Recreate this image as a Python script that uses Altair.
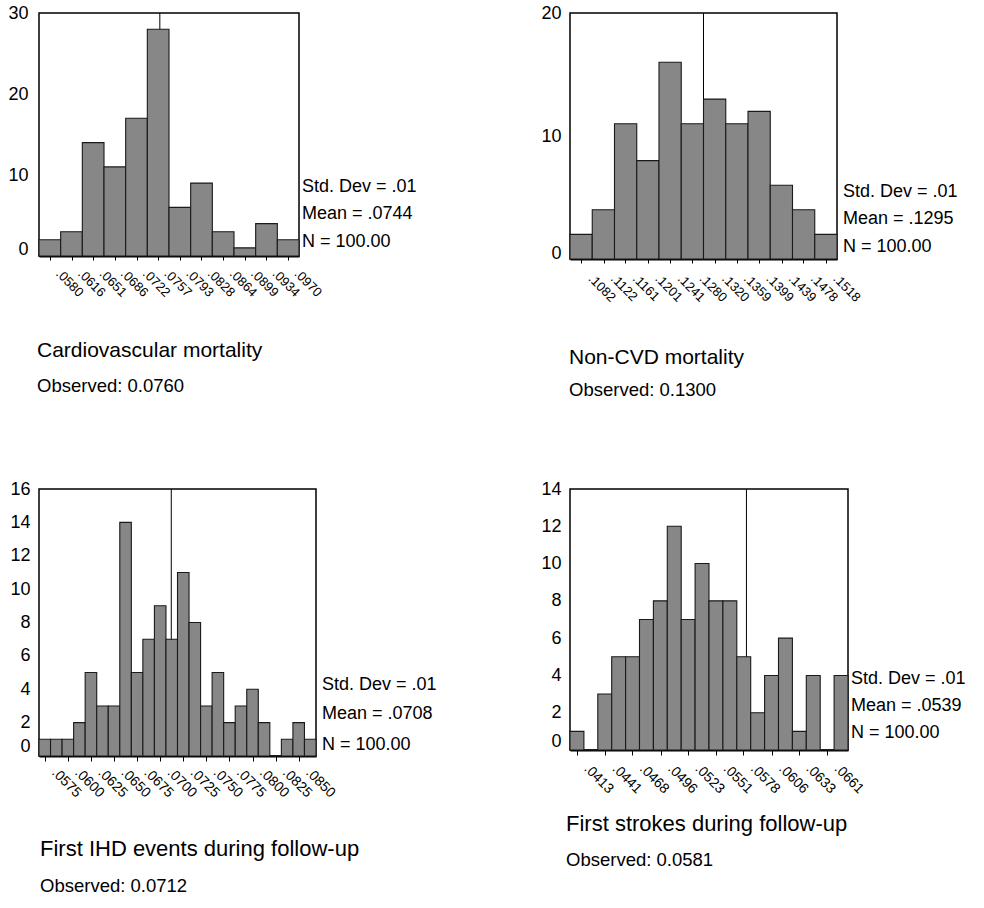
import altair as alt
import pandas as pd

FONT = "Liberation Sans"

# Cardiovascular mortality: bin midpoints shown on the axis and counts per bin
cvd_ticks = [0.0580, 0.0616, 0.0651, 0.0686, 0.0722, 0.0757, 0.0793, 0.0828,
             0.0864, 0.0899, 0.0934, 0.0970]
cvd_counts = [2, 3, 14, 11, 17, 28, 6, 9, 3, 1, 4, 2]
cvd_observed = 0.0760
cvd_mean = ".0744"

# Non-CVD mortality
noncvd_ticks = [0.1082, 0.1122, 0.1161, 0.1201, 0.1241, 0.1280, 0.1320, 0.1359,
                0.1399, 0.1439, 0.1478, 0.1518]
noncvd_counts = [2, 4, 11, 8, 16, 11, 13, 11, 12, 6, 4, 2]
noncvd_observed = 0.1300
noncvd_mean = ".1295"

# First IHD events during follow-up (two bins per labelled tick)
ihd_ticks = [0.0575, 0.0600, 0.0625, 0.0650, 0.0675, 0.0700, 0.0725, 0.0750,
             0.0775, 0.0800, 0.0825, 0.0850]
ihd_counts = [1, 1, 1, 2, 5, 3, 3, 14, 5, 7, 9, 7, 11, 8, 3, 5, 2, 3, 4, 2,
              0, 1, 2, 1]
ihd_observed = 0.0712
ihd_mean = ".0708"

# First strokes during follow-up (two bins per labelled tick)
stroke_ticks = [0.0413, 0.0441, 0.0468, 0.0496, 0.0523, 0.0551, 0.0578, 0.0606,
                0.0633, 0.0661]
stroke_counts = [1, 0, 3, 5, 5, 7, 8, 12, 7, 10, 8, 8, 5, 2, 4, 6, 1, 4, 0, 4]
stroke_observed = 0.0581
stroke_mean = ".0539"

std_dev = ".01"
n_cases = "100.00"

BAR_FILL = "#878787"


def text_mark(text, x, y, size, baseline="middle"):
    return alt.Chart(pd.DataFrame({"t": [text]})).mark_text(
        align="left", baseline=baseline, font=FONT, fontSize=size, color="black"
    ).encode(text="t:N", x=alt.value(x), y=alt.value(y))


def panel(ticks, counts, bars_per_tick, observed, mean, y_ticks, title,
          width, height, lay):
    step = (ticks[-1] - ticks[0]) / (len(ticks) - 1) / bars_per_tick
    lo = [ticks[0] + (i - 0.5) * step for i in range(len(counts))]
    hi = [v + step for v in lo]
    bars_df = pd.DataFrame({"lo": lo, "hi": hi, "count": counts,
                            "base": [0] * len(counts)})
    obs_df = pd.DataFrame({"obs": [observed], "y0": [y_ticks[0]], "y1": [y_ticks[-1]]})

    x_scale = alt.Scale(domain=[lo[0], hi[-1]], nice=False, zero=False)
    y_scale = alt.Scale(domain=[y_ticks[0], y_ticks[-1]], nice=False)

    x_axis = alt.Axis(
        values=ticks,
        labelExpr="substring(format(datum.value, '.4f'), 1)",
        labelAngle=45, labelAlign="left", labelBaseline="alphabetic",
        labelFontSize=lay["xfont"], labelPadding=lay["xpad"],
        labelOffset=lay["xoff"], labelOverlap=False, labelFlush=False,
        labelBound=False, tickSize=lay["tick"], tickColor="black",
        domainColor="black", domainWidth=2, grid=False, title=None,
    )
    y_axis = alt.Axis(
        values=y_ticks, tickSize=0, labelPadding=lay["ypad"], labelFontSize=18,
        labelOffset={"condition": {"test": "datum.value === 0", "value": lay["zero_off"]},
                     "value": 0},
        domain=False, grid=False, title=None,
    )

    # observed value: drawn first so the bars cover its lower part
    rule = alt.Chart(obs_df).mark_rule(color="black", strokeWidth=1).encode(
        x=alt.X("obs:Q", scale=x_scale, axis=x_axis),
        y=alt.Y("y0:Q", scale=y_scale, axis=y_axis),
        y2="y1:Q",
    )
    bars = alt.Chart(bars_df).mark_rect(
        fill=BAR_FILL, stroke="#1a1a1a", strokeWidth=1.1
    ).encode(
        x=alt.X("lo:Q", scale=x_scale, axis=x_axis),
        x2="hi:Q",
        y=alt.Y("count:Q", scale=y_scale, axis=y_axis),
        y2="base:Q",
    )

    sx = lay["stats_x"]
    layers = [
        rule,
        bars,
        text_mark(f"Std. Dev = {std_dev}", sx, height + lay["stats_y"][0], 18),
        text_mark(f"Mean = {mean}", sx, height + lay["stats_y"][1], 18),
        text_mark(f"N = {n_cases}", sx, height + lay["stats_y"][2], 18),
        text_mark(title, lay["title_x"], height + lay["title_y"], lay["title_size"],
                  baseline="alphabetic"),
        text_mark(f"Observed: {observed:.4f}", lay["title_x"], height + lay["obs_y"],
                  18.5, baseline="alphabetic"),
    ]
    return alt.layer(*layers).properties(width=width, height=height)


p1 = panel(cvd_ticks, cvd_counts, 1, cvd_observed, cvd_mean, [0, 10, 20, 30],
           "Cardiovascular mortality", 260, 243,
           dict(xfont=13, xpad=14, xoff=5, tick=4, ypad=11, zero_off=-7,
                stats_x=263, stats_y=[-69, -42, -14], title_x=-2, title_y=101,
                obs_y=136, title_size=21))
p2 = panel(noncvd_ticks, noncvd_counts, 1, noncvd_observed, noncvd_mean, [0, 10, 20],
           "Non-CVD mortality", 267, 246,
           dict(xfont=13, xpad=16, xoff=6, tick=4, ypad=9, zero_off=-6,
                stats_x=273, stats_y=[-67, -40, -12], title_x=-1, title_y=105,
                obs_y=137, title_size=21))
p3 = panel(ihd_ticks, ihd_counts, 2, ihd_observed, ihd_mean,
           [0, 2, 4, 6, 8, 10, 12, 14, 16],
           "First IHD events during follow-up", 277, 267,
           dict(xfont=14, xpad=12, xoff=6, tick=5, ypad=9, zero_off=-10,
                stats_x=283, stats_y=[-71, -42, -11], title_x=1, title_y=100,
                obs_y=136, title_size=22))
p4 = panel(stroke_ticks, stroke_counts, 2, stroke_observed, stroke_mean,
           [0, 2, 4, 6, 8, 10, 12, 14],
           "First strokes during follow-up", 278, 261,
           dict(xfont=14, xpad=14, xoff=6, tick=5, ypad=9, zero_off=-9,
                stats_x=281, stats_y=[-71, -44, -17], title_x=-4, title_y=81,
                obs_y=116, title_size=22))

chart = alt.concat(
    p1, p2, p3, p4, columns=2, bounds="flush",
    spacing={"row": 230, "column": 254},
).properties(
    padding={"left": 7, "top": 3, "right": 5, "bottom": 5},
    background="white",
).configure_view(
    stroke="black", strokeWidth=1.5
).configure_axis(
    labelFont=FONT, labelColor="black"
)

chart.save("out.html", embed_options={"renderer": "svg", "actions": False})
